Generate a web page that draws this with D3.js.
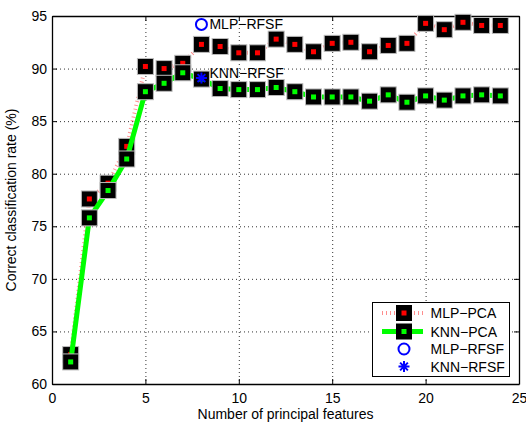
<!DOCTYPE html>
<html>
<head>
<meta charset="utf-8">
<script src="https://cdn.jsdelivr.net/npm/d3@7"></script>
<style>
body{margin:0;background:#fff;}
svg{display:block;font-family:"Liberation Sans",Arial,sans-serif;}
</style>
</head>
<body>
<div id="chart"></div>
<script>
var features=[1,2,3,4,5,6,7,8,9,10,11,12,13,14,15,16,17,18,19,20,21,22,23,24];
var mlpPca=[62.8,77.6,79.1,82.6,90.2,90.0,90.5,92.3,92.1,91.5,91.5,92.8,92.3,91.6,92.4,92.5,91.6,92.2,92.4,94.3,93.7,94.4,94.1,94.1];
var knnPca=[62.1,75.8,78.4,81.4,87.8,88.6,89.6,89.0,88.1,88.0,88.0,88.2,87.8,87.3,87.3,87.3,86.9,87.5,86.8,87.4,87.0,87.4,87.5,87.4];
var mlpRfsf=[{x:8,y:94.2}];
var knnRfsf=[{x:8,y:89.1}];
var xTicks=[0,5,10,15,20,25];
var yTicks=[60,65,70,75,80,85,90,95];
var legendNames=['MLP\u2212PCA','KNN\u2212PCA','MLP\u2212RFSF','KNN\u2212RFSF'];

var W=526,H=423;
var pl=52,pr=519,pt=16,pb=384;
var fs='14px';

var svg=d3.select('#chart').append('svg').attr('width',W).attr('height',H);
var x=d3.scaleLinear().domain([0,25]).range([pl,pr]);
var y=d3.scaleLinear().domain([60,95]).range([pb,pt]);

// grid
svg.append('g').selectAll('line').data(xTicks.slice(1,-1)).join('line')
  .attr('x1',d=>x(d)+0.5).attr('x2',d=>x(d)+0.5).attr('y1',pt).attr('y2',pb)
  .attr('stroke','#333').attr('stroke-width',1).attr('stroke-dasharray','1,3');
svg.append('g').selectAll('line').data(yTicks.slice(1,-1)).join('line')
  .attr('y1',d=>y(d)+0.5).attr('y2',d=>y(d)+0.5).attr('x1',pl).attr('x2',pr)
  .attr('stroke','#333').attr('stroke-width',1).attr('stroke-dasharray','1,3');

// axes, ticks inward on all sides
var xb=svg.append('g').attr('transform','translate(0,'+pb+')')
  .call(d3.axisBottom(x).tickValues(xTicks).tickSizeInner(-5).tickSizeOuter(0).tickPadding(9));
var xt=svg.append('g').attr('transform','translate(0,'+pt+')')
  .call(d3.axisTop(x).tickValues(xTicks).tickSizeInner(-5).tickSizeOuter(0).tickFormat(''));
var yl=svg.append('g').attr('transform','translate('+pl+',0)')
  .call(d3.axisLeft(y).tickValues(yTicks).tickSizeInner(-5).tickSizeOuter(0).tickPadding(5));
var yr=svg.append('g').attr('transform','translate('+pr+',0)')
  .call(d3.axisRight(y).tickValues(yTicks).tickSizeInner(-5).tickSizeOuter(0).tickFormat(''));
[xb,xt,yl,yr].forEach(function(a){
  a.select('.domain').attr('stroke','#000').attr('stroke-width',1.3);
  a.selectAll('.tick line').attr('stroke','#000');
  a.selectAll('text').attr('fill','#000').style('font-size',fs).style('font-family','"Liberation Sans",Arial,sans-serif');
});

var line=d3.line().x((d,i)=>x(features[i])).y(d=>y(d));

function squares(vals,col){
  var g=svg.append('g');
  g.selectAll('rect.o').data(vals).join('rect').attr('class','o')
    .attr('x',(d,i)=>x(features[i])-8).attr('y',d=>y(d)-8)
    .attr('width',16).attr('height',16).attr('fill','#000')
    .attr('stroke','#bbb').attr('stroke-width',1);
  g.selectAll('rect.i').data(vals).join('rect').attr('class','i')
    .attr('x',(d,i)=>x(features[i])-2.5).attr('y',d=>y(d)-2.5)
    .attr('width',5).attr('height',5).attr('fill',col);
}

svg.append('path').datum(mlpPca).attr('d',line).attr('fill','none')
  .attr('stroke','#ff3030').attr('stroke-opacity',0.55).attr('stroke-width',4).attr('stroke-dasharray','1,3');
squares(mlpPca,'#ff0000');
svg.append('path').datum(knnPca).attr('d',line).attr('fill','none')
  .attr('stroke','#00ff00').attr('stroke-width',5);
squares(knnPca,'#00ff00');

function asterisk(g,cx,cy,r){
  var p='';
  [0,45,90,135].forEach(function(a){
    var dx=r*Math.cos(a*Math.PI/180),dy=r*Math.sin(a*Math.PI/180);
    p+='M'+(cx-dx)+','+(cy-dy)+'L'+(cx+dx)+','+(cy+dy);
  });
  g.append('path').attr('d',p).attr('stroke','#0000ff').attr('stroke-width',2);
}

svg.selectAll('circle.rf').data(mlpRfsf).join('circle').attr('class','rf')
  .attr('cx',d=>x(d.x)).attr('cy',d=>y(d.y)).attr('r',5.5)
  .attr('fill','none').attr('stroke','#0000ff').attr('stroke-width',2);
knnRfsf.forEach(function(d){asterisk(svg,x(d.x),y(d.y),5.5);});

// annotations
svg.append('text').attr('x',x(mlpRfsf[0].x)+8).attr('y',y(mlpRfsf[0].y)+5)
  .style('font-size',fs).text('MLP\u2212RFSF');
svg.append('text').attr('x',x(knnRfsf[0].x)+8).attr('y',y(knnRfsf[0].y))
  .style('font-size',fs).text('KNN\u2212RFSF');

// axis labels
svg.append('text').attr('x',(pl+pr)/2).attr('y',418.5).attr('text-anchor','middle')
  .style('font-size',fs).text('Number of principal features');
svg.append('text').attr('transform','translate(16,'+((pt+pb)/2)+') rotate(-90)')
  .attr('text-anchor','middle').style('font-size',fs).text('Correct classification rate (%)');

// legend
var lg=svg.append('g').attr('transform','translate(372,302)');
lg.append('rect').attr('x',0.5).attr('y',0.5).attr('width',137).attr('height',74)
  .attr('fill','#fff').attr('stroke','#000').attr('stroke-width',1);
var rows=[11,29.5,47,64.5];
lg.append('line').attr('x1',10).attr('x2',51).attr('y1',rows[0]).attr('y2',rows[0])
  .attr('stroke','#ff3030').attr('stroke-opacity',0.55).attr('stroke-width',4).attr('stroke-dasharray','1,3');
lg.append('line').attr('x1',10).attr('x2',51).attr('y1',rows[1]).attr('y2',rows[1])
  .attr('stroke','#00ff00').attr('stroke-width',5);
[['#ff0000',rows[0]],['#00ff00',rows[1]]].forEach(function(m){
  lg.append('rect').attr('x',32-8).attr('y',m[1]-8).attr('width',16).attr('height',16).attr('fill','#000');
  lg.append('rect').attr('x',32-2.5).attr('y',m[1]-2.5).attr('width',5).attr('height',5).attr('fill',m[0]);
});
lg.append('circle').attr('cx',32).attr('cy',rows[2]).attr('r',5.5).attr('fill','none')
  .attr('stroke','#0000ff').attr('stroke-width',2);
asterisk(lg,32,rows[3],5.5);
lg.selectAll('text').data(legendNames).join('text')
  .attr('x',58.5).attr('y',(d,i)=>rows[i]+5).style('font-size',fs).text(d=>d);
</script>
</body>
</html>
